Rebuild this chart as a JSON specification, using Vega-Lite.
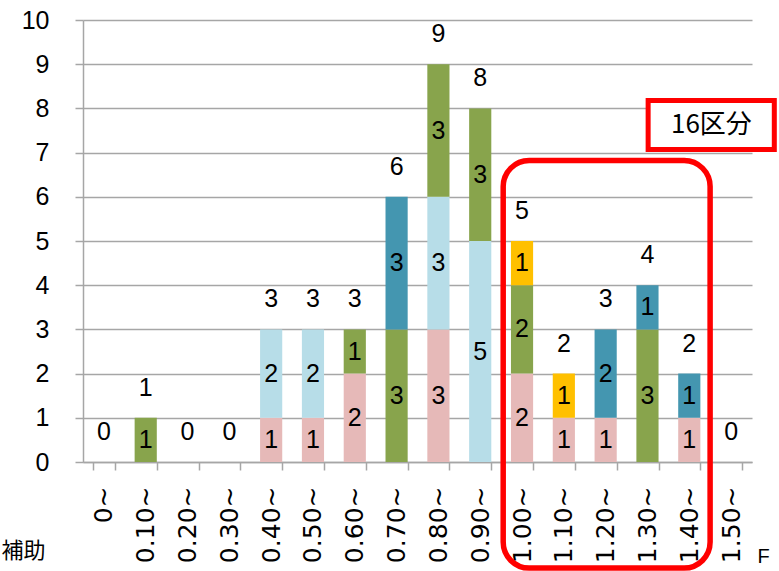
{
  "$schema": "https://vega.github.io/schema/vega-lite/v6.json",
  "autosize": {"type": "none"},
  "padding": {"left": 83, "top": 20, "right": 27, "bottom": 109},
  "width": 669,
  "height": 442,
  "background": "white",
  "config": {"view": {"stroke": null}},
  "datasets": {
    "bars": [
      {"cat": "0~", "series": "A", "value": 0},
      {"cat": "0.10~", "series": "C", "value": 1},
      {"cat": "0.20~", "series": "A", "value": 0},
      {"cat": "0.30~", "series": "A", "value": 0},
      {"cat": "0.40~", "series": "A", "value": 1},
      {"cat": "0.40~", "series": "B", "value": 2},
      {"cat": "0.50~", "series": "A", "value": 1},
      {"cat": "0.50~", "series": "B", "value": 2},
      {"cat": "0.60~", "series": "A", "value": 2},
      {"cat": "0.60~", "series": "C", "value": 1},
      {"cat": "0.70~", "series": "C", "value": 3},
      {"cat": "0.70~", "series": "D", "value": 3},
      {"cat": "0.80~", "series": "A", "value": 3},
      {"cat": "0.80~", "series": "B", "value": 3},
      {"cat": "0.80~", "series": "C", "value": 3},
      {"cat": "0.90~", "series": "B", "value": 5},
      {"cat": "0.90~", "series": "C", "value": 3},
      {"cat": "1.00~", "series": "A", "value": 2},
      {"cat": "1.00~", "series": "C", "value": 2},
      {"cat": "1.00~", "series": "E", "value": 1},
      {"cat": "1.10~", "series": "A", "value": 1},
      {"cat": "1.10~", "series": "E", "value": 1},
      {"cat": "1.20~", "series": "A", "value": 1},
      {"cat": "1.20~", "series": "D", "value": 2},
      {"cat": "1.30~", "series": "C", "value": 3},
      {"cat": "1.30~", "series": "D", "value": 1},
      {"cat": "1.40~", "series": "A", "value": 1},
      {"cat": "1.40~", "series": "D", "value": 1},
      {"cat": "1.50~", "series": "A", "value": 0}
    ]
  },
  "layer": [
    {
      "data": {"name": "bars"},
      "mark": {"type": "bar"},
      "encoding": {
        "x": {
          "field": "cat", "type": "nominal",
          "sort": ["0~","0.10~","0.20~","0.30~","0.40~","0.50~","0.60~","0.70~","0.80~","0.90~","1.00~","1.10~","1.20~","1.30~","1.40~","1.50~"],
          "scale": {
            "domain": ["0~","0.10~","0.20~","0.30~","0.40~","0.50~","0.60~","0.70~","0.80~","0.90~","1.00~","1.10~","1.20~","1.30~","1.40~","1.50~"],
            "paddingInner": 0.47, "paddingOuter": 0.235
          },
          "axis": {
            "title": "F",
            "titleX": 674, "titleY": 84, "titleAlign": "left", "titleBaseline": "top",
            "titleFont": "Liberation Sans", "titleFontSize": 20, "titleFontWeight": "normal", "titleColor": "black",
            "labelAngle": -90, "labelAlign": "right", "labelBaseline": "middle",
            "labelFont": "DejaVu Sans", "labelFontSize": 25, "labelColor": "black", "labelPadding": 16,
            "tickBand": "extent", "tickSize": 8, "tickColor": "#A6A6A6", "tickWidth": 1.5,
            "domainColor": "#A6A6A6", "domainWidth": 1.5, "grid": false
          }
        },
        "y": {
          "aggregate": "sum", "field": "value", "type": "quantitative",
          "stack": "zero",
          "scale": {"domain": [0, 10], "nice": false},
          "axis": {
            "values": [0,1,2,3,4,5,6,7,8,9,10],
            "title": "補助",
            "titleAngle": 0, "titleX": -82, "titleY": 530, "titleAlign": "left", "titleBaseline": "middle",
            "titleFont": "Noto Sans CJK JP", "titleFontSize": 22, "titleFontWeight": "normal", "titleColor": "black",
            "labelFont": "Liberation Sans", "labelFontSize": 25, "labelColor": "black", "labelPadding": 26,
            "tickSize": 8, "tickColor": "#A6A6A6", "tickWidth": 1.5,
            "domainColor": "#A6A6A6", "domainWidth": 1.5,
            "grid": true, "gridColor": "#A6A6A6", "gridWidth": 1.5
          }
        },
        "color": {
          "field": "series", "type": "nominal",
          "scale": {"domain": ["A","B","C","D","E"], "range": ["#E6B9B8","#B7DDE8","#88A44C","#4496B0","#FFC000"]},
          "legend": null
        },
        "order": {"field": "series", "sort": "ascending"}
      }
    },
    {
      "data": {"name": "bars"},
      "transform": [
        {"filter": "datum.value > 0"},
        {"stack": "value", "groupby": ["cat"], "sort": [{"field": "series", "order": "ascending"}], "as": ["y0", "y1"]},
        {"calculate": "(datum.y0 + datum.y1) / 2", "as": "mid"}
      ],
      "mark": {"type": "text", "font": "Liberation Sans", "fontSize": 25, "color": "black", "baseline": "middle"},
      "encoding": {
        "x": {"field": "cat", "type": "nominal"},
        "y": {"field": "mid", "type": "quantitative"},
        "text": {"field": "value", "type": "quantitative"}
      }
    },
    {
      "data": {"name": "bars"},
      "transform": [
        {"aggregate": [{"op": "sum", "field": "value", "as": "total"}], "groupby": ["cat"]}
      ],
      "mark": {"type": "text", "font": "Liberation Sans", "fontSize": 25, "color": "black", "baseline": "middle", "dy": -30},
      "encoding": {
        "x": {"field": "cat", "type": "nominal"},
        "y": {"field": "total", "type": "quantitative"},
        "text": {"field": "total", "type": "quantitative"}
      }
    },
    {
      "data": {"values": [{"a": "1.00~", "b": "1.40~", "top": 6.82, "bottom": -2.4}]},
      "mark": {"type": "rect", "filled": false, "stroke": "#FF0000", "strokeWidth": 5.5, "cornerRadius": 26},
      "encoding": {
        "x": {"field": "a", "type": "nominal", "bandPosition": -0.35},
        "x2": {"field": "b", "bandPosition": 1.44},
        "y": {"field": "top", "type": "quantitative"},
        "y2": {"field": "bottom"}
      }
    },
    {
      "data": {"values": [{"a": "1.30~", "b": "1.50~", "top": 8.18, "bottom": 7.07}]},
      "mark": {"type": "rect", "fill": "white", "stroke": "#FF0000", "strokeWidth": 5},
      "encoding": {
        "x": {"field": "a", "type": "nominal", "bandPosition": 0.53},
        "x2": {"field": "b", "bandPosition": 2.45},
        "y": {"field": "top", "type": "quantitative"},
        "y2": {"field": "bottom"}
      }
    },
    {
      "data": {"values": [{"a": "1.40~", "y": 7.62, "label": "16区分"}]},
      "mark": {"type": "text", "font": "Noto Sans CJK JP", "fontSize": 26, "color": "black", "baseline": "middle", "align": "center"},
      "encoding": {
        "x": {"field": "a", "type": "nominal", "bandPosition": 1.5},
        "y": {"field": "y", "type": "quantitative"},
        "text": {"field": "label"}
      }
    }
  ]
}
